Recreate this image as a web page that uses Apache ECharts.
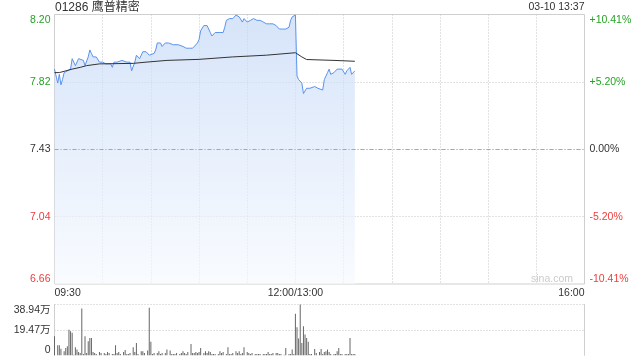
<!DOCTYPE html>
<html><head><meta charset="utf-8">
<script src="https://cdn.jsdelivr.net/npm/echarts@6/dist/echarts.min.js"></script>
<style>html,body{margin:0;padding:0;background:#fff}#c{width:640px;height:360px}</style>
</head><body><div id="c"></div>
<script>
const titleText = '01286 鹰普精密';
const stampText = '03-10 13:37';
const watermark = 'sina.com';
const prevClose = 7.43;
const pctStep = 5.205;

const priceMinutes = [0,1,2,3,4,5,6,7,8,10,11,12,13,14,15,16,18,19,21,22,23,24,25,26,28,30,32,33,35,36,37,39,40,42,43,45,46,47,48,49,50,51,52,53,55,56,57,59,60,62,63,64,65,66,67,68,69,70,71,72,74,75,77,78,80,82,84,86,87,89,90,91,93,95,96,97,98,99,100,101,103,104,105,106,107,108,109,110,111,112,113,115,116,117,118,120,121,122,124,125,126,128,129,130,132,134,136,138,139,140,142,144,145,146,147,148,149,150,151,152,153,154,155,157,158,159,160,162,163,164,165,167,168,169,170,171,172,174,175,176,177,179,180,181,182,184,185,186,187];
const prices = [7.89,7.88,7.81,7.86,7.80,7.83,7.87,7.88,7.88,7.89,7.95,7.93,7.91,7.92,7.95,7.94,7.94,7.91,7.96,8.00,7.98,7.96,7.95,7.96,7.93,7.93,7.92,7.93,7.92,7.90,7.93,7.93,7.94,7.94,7.95,7.93,7.94,7.93,7.88,7.88,7.93,7.97,7.96,7.95,7.99,8.00,7.99,7.97,7.98,7.98,8.00,8.04,8.05,8.04,8.02,8.03,8.04,8.03,8.04,8.05,8.03,8.04,8.03,8.02,8.02,8.01,8.01,8.01,8.02,8.04,8.06,8.11,8.14,8.14,8.13,8.10,8.08,8.09,8.10,8.10,8.10,8.09,8.10,8.13,8.17,8.18,8.18,8.19,8.18,8.19,8.20,8.19,8.20,8.16,8.18,8.16,8.17,8.17,8.18,8.17,8.17,8.17,8.16,8.16,8.15,8.15,8.15,8.14,8.13,8.12,8.12,8.12,8.12,8.13,8.17,8.19,8.19,8.20,7.85,7.83,7.82,7.81,7.75,7.78,7.79,7.78,7.79,7.79,7.79,7.78,7.79,7.77,7.83,7.85,7.87,7.89,7.86,7.87,7.88,7.89,7.88,7.89,7.88,7.86,7.88,7.90,7.86,7.87,7.88];

const avgMinutes = [0,3,7,11,16,20,28,49,57,70,90,111,132,150,154,157,174,187];
const avgPrices = [7.87,7.87,7.88,7.89,7.90,7.91,7.92,7.923,7.93,7.94,7.946,7.96,7.97,7.984,7.96,7.945,7.94,7.935];

const volMinutes = [0,2,3,4,6,7,8,9,10,11,12,13,14,15,16,17,18,19,20,21,22,23,24,25,26,28,29,31,32,33,34,36,37,38,39,40,41,43,44,45,46,47,49,50,51,52,54,55,56,58,59,60,61,62,64,65,66,67,69,70,72,73,74,75,76,78,79,80,81,82,83,85,86,87,88,89,90,91,93,94,95,96,97,98,99,100,102,103,104,105,107,108,109,110,111,113,114,115,116,117,118,120,121,122,123,125,126,127,128,130,131,132,133,134,135,136,138,139,140,141,143,144,146,147,148,149,150,151,152,153,154,155,156,157,158,159,160,162,163,165,166,167,168,169,170,171,172,174,175,176,177,178,179,181,182,183,184,185,186,187];
const volumes = [14.6,7.7,7.7,5.1,3.1,5.6,6.9,19.5,18.5,17.2,0.5,6.2,4.4,2.6,1.8,35.9,1.0,14.6,1.8,10.8,13.3,13.3,2.6,1.8,1.0,2.6,1.8,1.8,1.0,2.6,1.8,1.0,1.0,7.7,1.8,2.6,1.0,2.6,4.1,1.0,1.0,1.8,6.2,2.6,9.5,1.0,3.1,3.1,1.8,3.6,36.4,10.3,1.0,1.8,1.8,3.1,1.0,1.8,1.8,4.4,3.6,1.0,1.0,1.0,1.8,1.0,1.8,3.1,1.8,1.0,2.6,8.7,1.8,1.8,2.6,1.8,2.6,5.6,1.8,3.1,1.8,3.1,2.6,1.0,1.0,1.0,1.0,3.1,1.8,2.6,1.0,6.2,1.0,1.0,1.8,3.1,1.8,3.1,1.0,1.8,6.2,2.6,1.8,1.0,1.8,1.0,1.0,1.0,1.0,1.0,1.0,1.0,2.6,1.0,1.0,1.8,1.8,1.8,1.0,1.0,0.5,5.6,1.0,1.0,4.4,1.0,31.8,21.5,12.8,38.94,9.5,22.3,15.9,13.3,10.3,1.0,1.0,4.9,1.8,2.6,4.9,1.0,2.6,3.1,4.4,2.6,1.0,1.0,1.0,3.1,5.6,1.0,1.0,1.0,1.0,1.0,13.3,1.0,1.0,1.0];

const timeTickMinutes = [0,150,330];
const timeTicks = ['09:30','12:00/13:00','16:00'];
const priceTicks = ['6.66','7.04','7.43','7.82','8.20'];
const pctTicks = ['-10.41%','-5.20%','0.00%','+5.20%','+10.41%'];
const volTicks = ['0','19.47万','38.94万'];
const volMax = 38.94;

const FONT = "'Liberation Sans', Arial, 'Noto Sans CJK SC', sans-serif";
const GREEN = '#25a325', RED = '#f03c3c', DARK = '#333';
const tickColor = (v) => v > 0.01 ? GREEN : (v < -0.01 ? RED : DARK);
const toUnit = (p) => (p / prevClose - 1) * 100 / pctStep;
const DOT = {type: [1, 2], color: '#c4c4c4', width: 1};

const chart = echarts.init(document.getElementById('c'), null, {renderer: 'canvas'});
chart.setOption({
  animation: false,
  textStyle: {fontFamily: FONT},
  grid: [
    {left: 54.5, right: 55.5, top: 14.5, height: 269.5, show: true, borderColor: '#cfcfcf', borderWidth: 1, backgroundColor: 'transparent'},
    {left: 54.5, right: 55.5, top: 304.5, height: 50.8}
  ],
  graphic: [
    {type: 'text', left: 55, top: 1.5, style: {text: titleText, font: '12px ' + FONT, fill: DARK}},
    {type: 'text', right: 55.5, top: 1.8, style: {text: stampText, font: '10.5px ' + FONT, fill: DARK}},
    {type: 'text', right: 67, top: 273.5, z: 0, style: {text: watermark, font: '10.5px ' + FONT, fill: '#cbcbcb'}}
  ],
  xAxis: [
    {type: 'value', gridIndex: 0, min: 0, max: 330, interval: 30,
     axisLine: {show: false}, axisTick: {show: false},
     splitLine: {show: true, showMinLine: false, showMaxLine: false, lineStyle: DOT},
     axisLabel: {margin: 4, fontSize: 10.5, color: DARK, fontFamily: FONT, alignMinLabel: 'left', alignMaxLabel: 'right',
       formatter: (v) => { const i = timeTickMinutes.indexOf(Math.round(v)); return i >= 0 ? timeTicks[i] : ''; }}},
    {type: 'value', gridIndex: 1, min: 0, max: 330, interval: 30, show: false}
  ],
  yAxis: [
    {type: 'value', gridIndex: 0, position: 'left', min: -2, max: 2, interval: 1,
     axisLine: {show: false}, axisTick: {show: false},
     splitLine: {show: true, showMinLine: false, showMaxLine: false, lineStyle: DOT},
     axisLabel: {margin: 4, fontSize: 10.5, fontFamily: FONT, verticalAlignMinLabel: 'bottom', verticalAlignMaxLabel: 'top',
       color: (v) => tickColor(v), formatter: (v, i) => priceTicks[Math.round(v) + 2]}},
    {type: 'value', gridIndex: 0, position: 'right', min: -2, max: 2, interval: 1,
     axisLine: {show: false}, axisTick: {show: false}, splitLine: {show: false},
     axisLabel: {margin: 5, fontSize: 10.5, fontFamily: FONT, verticalAlignMinLabel: 'bottom', verticalAlignMaxLabel: 'top',
       color: (v) => tickColor(v), formatter: (v, i) => pctTicks[Math.round(v) + 2]}},
    {type: 'value', gridIndex: 1, position: 'left', min: 0, max: volMax, interval: volMax / 2,
     axisLine: {show: true, lineStyle: {color: '#cfcfcf', width: 1}}, axisTick: {show: false},
     splitLine: {show: true, showMinLine: false, lineStyle: DOT},
     axisLabel: {margin: 4, fontSize: 10.5, fontFamily: FONT, color: DARK, verticalAlignMinLabel: 'bottom', verticalAlignMaxLabel: 'top',
       formatter: (v, i) => volTicks[Math.round(v / (volMax / 2))]}},
    {type: 'value', gridIndex: 1, position: 'right', min: 0, max: volMax, interval: volMax / 2,
     axisLine: {show: true, lineStyle: {color: '#cfcfcf', width: 1}}, axisTick: {show: false},
     splitLine: {show: false}, axisLabel: {show: false}}
  ],
  series: [
    {type: 'line', xAxisIndex: 0, yAxisIndex: 0, showSymbol: false, symbol: 'none',
     data: priceMinutes.map((m, i) => [m, toUnit(prices[i])]),
     lineStyle: {color: '#5b93ec', width: 1},
     areaStyle: {origin: 'start', color: new echarts.graphic.LinearGradient(0, 0, 0, 1, [
       {offset: 0, color: '#c4d8f6'}, {offset: 1, color: '#f6f9fe'}])},
     markLine: {silent: true, symbol: 'none', label: {show: false},
       lineStyle: {color: '#a8a8a8', type: [4, 2, 1, 2], width: 1},
       data: [{yAxis: 0}]}},
    {type: 'line', xAxisIndex: 0, yAxisIndex: 0, showSymbol: false, symbol: 'none',
     data: avgMinutes.map((m, i) => [m, toUnit(avgPrices[i])]),
     lineStyle: {color: '#333', width: 1}},
    {type: 'bar', xAxisIndex: 1, yAxisIndex: 2, barWidth: 1,
     data: volMinutes.map((m, i) => [m, volumes[i]]),
     itemStyle: {color: '#666'}}
  ]
});
</script>
</body></html>
